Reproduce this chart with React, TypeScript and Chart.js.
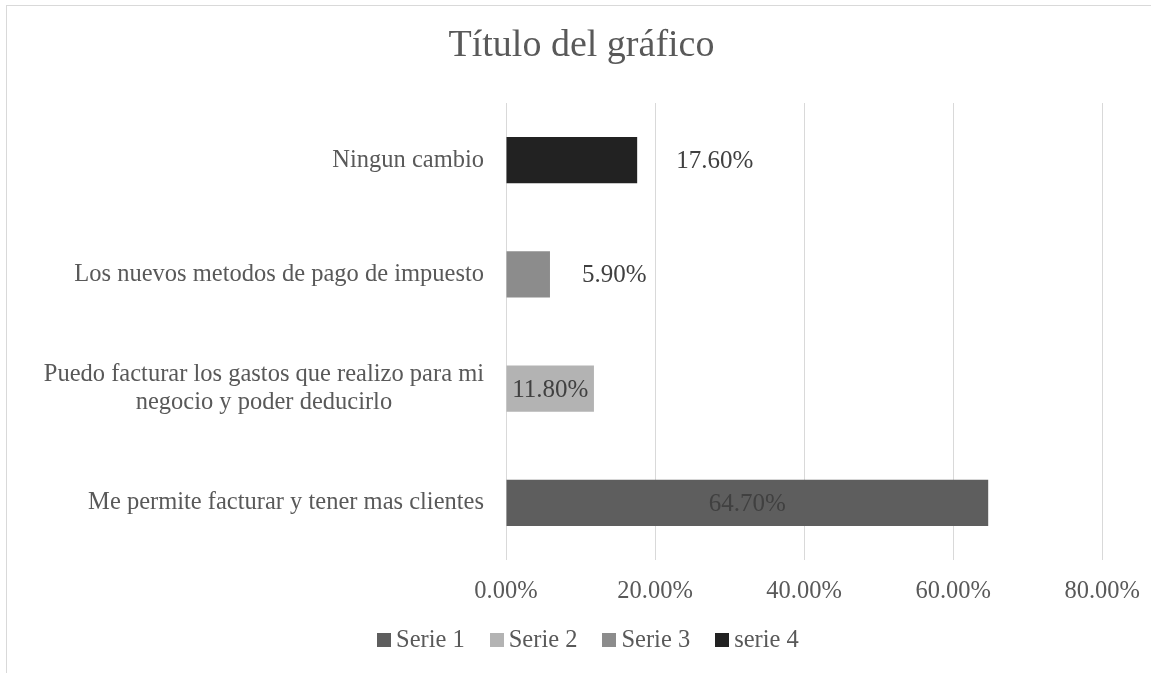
import React, { useEffect, useRef } from "react";
import { Chart, registerables } from "chart.js";

Chart.register(...registerables);

const FONT = "'Liberation Serif', 'Times New Roman', serif";

const chartTitle = "Título del gráfico";
const categories: string[][] = [
  ["Ningun cambio"],
  ["Los nuevos metodos de pago de impuesto"],
  ["Puedo facturar los gastos que realizo para mi", "negocio y poder deducirlo"],
  ["Me permite facturar y tener mas clientes"],
];
const seriesNames = ["Serie 1", "Serie 2", "Serie 3", "serie 4"];
const serie1 = [null, null, null, 64.7];
const serie2 = [null, null, 11.8, null];
const serie3 = [null, 5.9, null, null];
const serie4 = [17.6, null, null, null];
const seriesValues = [serie1, serie2, serie3, serie4];
const seriesColors = ["#5e5e5e", "#b3b3b3", "#8c8c8c", "#222222"];
const xMin = 0;
const xMax = 80;
const xStep = 20;

// data label placement per series (Excel-style): centered or outside the bar end
const labelPlacement = ["center", "center", "outside", "outside"];
const labelGap = [0, 0, 32, 39];

const fmt = (v: number) => v.toFixed(2) + "%";

const valueLabels = {
  id: "valueLabels",
  afterDatasetsDraw(chart: any) {
    const ctx = chart.ctx;
    ctx.save();
    ctx.font = `25px ${FONT}`;
    ctx.fillStyle = "#404040";
    ctx.textBaseline = "middle";
    chart.data.datasets.forEach((ds: any, di: number) => {
      const meta = chart.getDatasetMeta(di);
      meta.data.forEach((el: any, i: number) => {
        const v = ds.data[i];
        if (v == null) return;
        const p = el.getProps(["x", "y", "base"], true);
        if (labelPlacement[di] === "center") {
          ctx.textAlign = "center";
          ctx.fillText(fmt(v), (p.x + p.base) / 2, p.y + 1.5);
        } else {
          ctx.textAlign = "left";
          ctx.fillText(fmt(v), p.x + labelGap[di], p.y + 1.5);
        }
      });
    });
    ctx.restore();
  },
};

const categoryLabels = {
  id: "categoryLabels",
  afterDraw(chart: any) {
    const yScale = chart.scales.y;
    const ctx = chart.ctx;
    ctx.save();
    ctx.font = `24.5px ${FONT}`;
    ctx.fillStyle = "#595959";
    ctx.textBaseline = "middle";
    ctx.textAlign = "center";
    const right = yScale.right - 22;
    const lh = 28;
    categories.forEach((lines, i) => {
      const yc = yScale.getPixelForTick(i);
      const w = Math.max(...lines.map((l) => ctx.measureText(l).width));
      const cx = right - w / 2;
      lines.forEach((l, k) => {
        ctx.fillText(l, cx, yc + (k - (lines.length - 1) / 2) * lh);
      });
    });
    ctx.restore();
  },
};

export default function App() {
  const canvasRef = useRef<HTMLCanvasElement | null>(null);

  useEffect(() => {
    if (!canvasRef.current) return;
    const chart = new Chart(canvasRef.current, {
      type: "bar",
      data: {
        labels: categories,
        datasets: seriesNames.map((name, i) => ({
          label: name,
          data: seriesValues[i],
          backgroundColor: seriesColors[i],
          borderWidth: 0,
          barPercentage: 0.405,
          categoryPercentage: 1,
        })),
      },
      options: {
        indexAxis: "y",
        animation: false,
        responsive: true,
        maintainAspectRatio: false,
        layout: { padding: { left: 53, right: 54, top: 0, bottom: 42.6 } },
        plugins: {
          legend: { display: false },
          tooltip: { enabled: false },
          title: {
            display: true,
            text: chartTitle,
            color: "#595959",
            font: { family: FONT, size: 38, weight: "normal" },
            padding: { top: 17.6, bottom: 33.8 },
          },
        },
        scales: {
          x: {
            type: "linear",
            stacked: true,
            min: xMin,
            max: xMax,
            grid: { color: "#d9d9d9", lineWidth: 1, drawTicks: false },
            border: { display: false },
            ticks: {
              stepSize: xStep,
              padding: 17,
              color: "#595959",
              font: { family: FONT, size: 24.5 },
              callback: (v: any) => fmt(Number(v)),
            },
          },
          y: {
            type: "category",
            stacked: true,
            grid: { display: false },
            border: { display: false },
            ticks: { display: false },
            afterFit: (s: any) => {
              s.width = 446;
            },
          },
        },
      } as any,
      plugins: [valueLabels, categoryLabels],
    });
    return () => chart.destroy();
  }, []);

  return (
    <div
      style={{
        position: "fixed",
        left: 0,
        top: 0,
        width: 1151,
        height: 673,
        overflow: "hidden",
        background: "#fff",
      }}
    >
      <div
        style={{
          position: "absolute",
          left: 6,
          top: 5,
          width: 1170,
          height: 720,
          border: "1px solid #d9d9d9",
          boxSizing: "border-box",
        }}
      />
      <div style={{ position: "absolute", left: 7, top: 6, width: 1150, height: 660 }}>
        <canvas ref={canvasRef} />
      </div>
      <div
        style={{
          position: "absolute",
          left: 377,
          top: 626.5,
          display: "flex",
          gap: 25,
          fontFamily: FONT,
          fontSize: 24.5,
          lineHeight: 1,
          color: "#595959",
          whiteSpace: "nowrap",
        }}
      >
        {seriesNames.map((name, i) => (
          <div key={name} style={{ display: "flex", alignItems: "center" }}>
            <span
              style={{
                display: "inline-block",
                width: 14,
                height: 14,
                background: seriesColors[i],
                marginRight: 5,
                position: "relative",
                top: 1,
              }}
            />
            <span>{name}</span>
          </div>
        ))}
      </div>
    </div>
  );
}
